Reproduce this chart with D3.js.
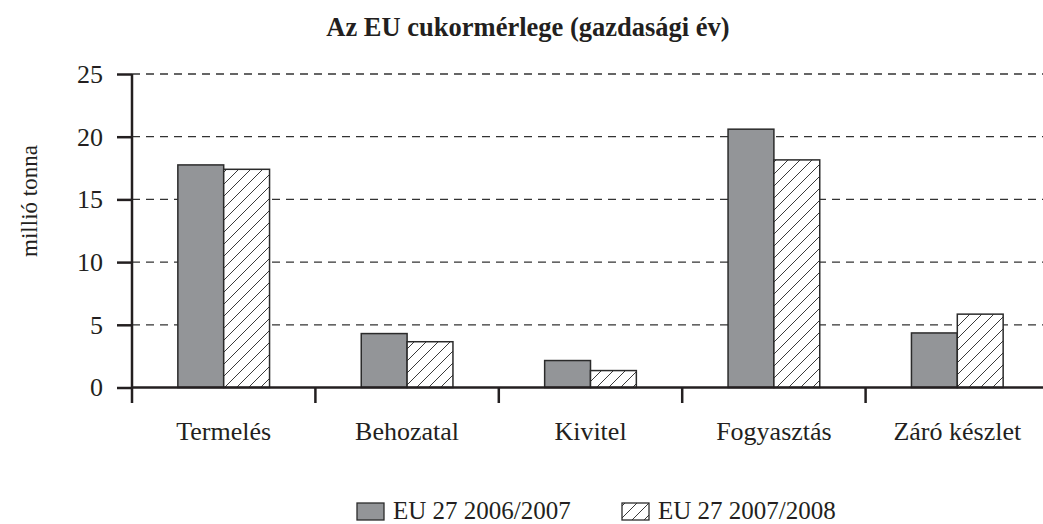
<!DOCTYPE html>
<html><head><meta charset="utf-8">
<script src="https://cdn.jsdelivr.net/npm/d3@7"></script>
<style>
html,body{margin:0;padding:0;background:#fff;}
svg text{font-family:"Liberation Serif","DejaVu Serif",serif;fill:#231f20;}
</style></head>
<body>
<svg id="chart" width="1043" height="524"></svg>
<script>
const categories = ["Termelés","Behozatal","Kivitel","Fogyasztás","Záró készlet"];
const series = ["EU 27 2006/2007","EU 27 2007/2008"];
const values2006 = [17.75, 4.3, 2.15, 20.6, 4.35];
const values2007 = [17.4, 3.65, 1.35, 18.15, 5.85];
const yTicks = [0,5,10,15,20,25];
const title = "Az EU cukormérlege (gazdasági év)";
const yLabel = "millió tonna";

const FONT = '"Liberation Serif","DejaVu Serif",serif';
const svg = d3.select("#chart");
const W = 1043, H = 524;
const x0 = 132, y0 = 387.5;
const x = d3.scaleBand().domain(categories).range([x0, x0 + 5*183.4]).paddingInner(0).paddingOuter(0);
const xs = d3.scaleBand().domain(series).range([0, x.bandwidth()]).paddingInner(0).paddingOuter(1);
const y = d3.scaleLinear().domain([0,25]).range([y0, 74]);

const defs = svg.append("defs");
const pat = defs.append("pattern").attr("id","hatch").attr("patternUnits","userSpaceOnUse")
  .attr("width",12).attr("height",12);
pat.append("rect").attr("width",12).attr("height",12).attr("fill","#fff");
pat.append("path").attr("d","M0,12 L12,0 M-3,3 L3,-3 M9,15 L15,9")
  .attr("stroke","#3a3a3a").attr("stroke-width",1);

// title
svg.append("text").attr("x",528).attr("y",36).attr("text-anchor","middle")
  .attr("font-size",26.5).attr("font-weight","bold").text(title);

// y label
svg.append("text").attr("transform","translate(37,201) rotate(-90)").attr("text-anchor","middle")
  .attr("font-size",23).text(yLabel);

// gridlines
svg.append("g").selectAll("line").data(yTicks.filter(d=>d>0)).join("line")
  .attr("x1",x0).attr("x2",W).attr("y1",d=>y(d)).attr("y2",d=>y(d))
  .attr("stroke","#333").attr("stroke-width",1.3).attr("stroke-dasharray","8,6");

// bars
const gBars = svg.append("g");
categories.forEach((c,i)=>{
  const vals = [values2006[i], values2007[i]];
  vals.forEach((v,j)=>{
    gBars.append("rect")
      .attr("x", x(c) + xs(series[j]))
      .attr("y", y(v))
      .attr("width", xs.bandwidth())
      .attr("height", y0 - y(v))
      .attr("fill", j===0 ? "#939598" : "url(#hatch)")
      .attr("stroke","#2b2b2b").attr("stroke-width",1.5);
  });
});

// y axis
const yAxis = d3.axisLeft(y).tickValues(yTicks).tickSize(15).tickPadding(14);
const gy = svg.append("g").attr("transform",`translate(${x0},0)`).call(yAxis);
gy.attr("font-family",null).attr("font-size",null);
gy.select(".domain").remove();
gy.selectAll(".tick line").attr("stroke","#231f20").attr("stroke-width",2.5);
gy.selectAll(".tick text").attr("font-size",26).attr("fill","#231f20");
svg.append("line").attr("x1",x0).attr("x2",x0).attr("y1",74).attr("y2",403)
  .attr("stroke","#231f20").attr("stroke-width",2.5);

// x axis
svg.append("line").attr("x1",x0).attr("x2",W).attr("y1",y0).attr("y2",y0)
  .attr("stroke","#231f20").attr("stroke-width",2.5);
const gx = svg.append("g");
gx.selectAll("line").data(categories.slice(1)).join("line")
  .attr("x1",d=>x(d)).attr("x2",d=>x(d)).attr("y1",y0).attr("y2",403)
  .attr("stroke","#231f20").attr("stroke-width",2.5);
gx.selectAll("text").data(categories).join("text")
  .attr("x",d=>x(d)+x.bandwidth()/2).attr("y",440).attr("text-anchor","middle")
  .attr("font-size",26).text(d=>d);

// legend
const legX = [357, 622];
const lg = svg.append("g");
series.forEach((s,j)=>{
  lg.append("rect").attr("x",legX[j]).attr("y",503).attr("width",27).attr("height",17)
    .attr("fill", j===0 ? "#939598" : "url(#hatch)").attr("stroke","#2b2b2b").attr("stroke-width",1.3);
  lg.append("text").attr("x",legX[j]+36).attr("y",519).attr("font-size",25).text(s);
});
svg.selectAll("text").style("font-family",FONT);
</script>
</body></html>
